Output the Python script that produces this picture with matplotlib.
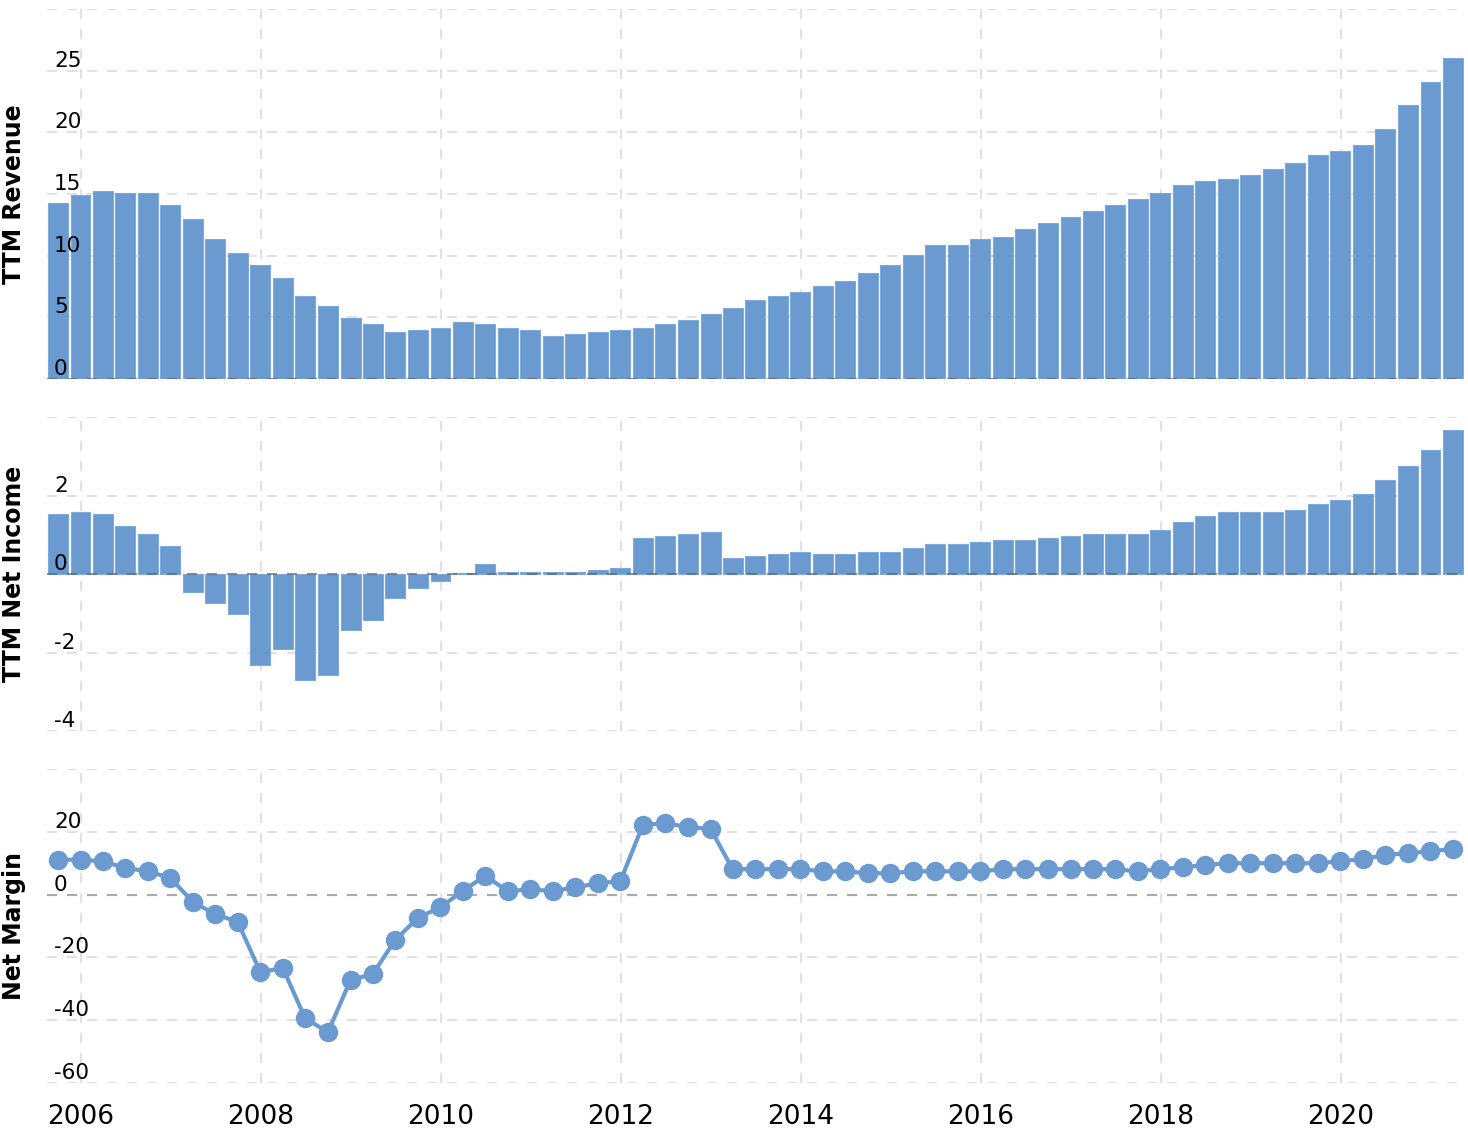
import numpy as np
import pandas as pd
import matplotlib
matplotlib.use('Agg')
import matplotlib.pyplot as plt
import matplotlib.dates as mdates

# quarter-end dates, 2005Q3 .. 2021Q1
quarters = pd.period_range('2005Q3', '2021Q1', freq='Q')
dates = quarters.asfreq('D', 'end').to_timestamp()

# TTM revenue (billions)
revenue = [14.27, 14.92, 15.24, 15.08, 15.08, 14.11, 12.98, 11.37, 10.24, 9.27,
           8.15, 6.69, 5.89, 4.92, 4.44, 3.79, 3.95, 4.11, 4.60, 4.44,
           4.11, 3.95, 3.47, 3.63, 3.79, 3.95, 4.11, 4.44, 4.76, 5.24,
           5.73, 6.37, 6.69, 7.02, 7.50, 7.98, 8.63, 9.27, 10.08, 10.89,
           10.89, 11.37, 11.53, 12.18, 12.66, 13.15, 13.63, 14.11, 14.60, 15.08,
           15.73, 16.05, 16.21, 16.53, 17.02, 17.50, 18.15, 18.47, 18.95, 20.24,
           22.18, 24.11, 26.05]

# TTM net income (billions)
net_income = [1.53, 1.58, 1.53, 1.22, 1.02, 0.71, -0.45, -0.75, -1.01, -2.33,
              -1.92, -2.69, -2.58, -1.42, -1.16, -0.60, -0.35, -0.19, 0.02, 0.25,
              0.05, 0.05, 0.05, 0.05, 0.10, 0.15, 0.92, 0.97, 1.02, 1.07,
              0.41, 0.46, 0.51, 0.56, 0.51, 0.51, 0.56, 0.56, 0.66, 0.76,
              0.76, 0.81, 0.86, 0.86, 0.92, 0.97, 1.02, 1.02, 1.02, 1.12,
              1.32, 1.47, 1.58, 1.58, 1.58, 1.63, 1.78, 1.88, 2.03, 2.39,
              2.75, 3.15, 3.66]

# net margin (%)
net_margin = [11.1, 11.1, 10.6, 8.5, 7.4, 5.3, -2.3, -6.2, -8.7, -24.7,
              -23.4, -39.4, -43.8, -27.2, -25.3, -14.5, -7.4, -4.0, 1.1, 6.0,
              1.1, 1.7, 1.1, 2.3, 3.6, 4.3, 22.1, 22.8, 21.5, 20.9,
              8.1, 8.1, 8.1, 8.1, 7.4, 7.4, 6.8, 6.8, 7.4, 7.4,
              7.4, 7.4, 8.1, 8.1, 8.1, 8.1, 8.1, 8.1, 7.4, 8.1,
              8.7, 9.4, 10.0, 10.0, 10.0, 10.0, 10.0, 10.6, 11.3, 12.6,
              13.2, 13.8, 14.5]

rev_ticks = [0, 5, 10, 15, 20, 25, 30]
ni_ticks = [-4, -2, 0, 2, 4]
nm_ticks = [-60, -40, -20, 0, 20, 40]
year_ticks = [pd.Timestamp(f'{y}-01-01') for y in range(2006, 2022, 2)]

BLUE = '#6a9ad0'
GRID = '#e2e2e2'

W, H = 1468, 1132
fig = plt.figure(figsize=(W / 100, H / 100), dpi=100)

left, right = 47 / W, 1464 / W
ax1 = fig.add_axes([left, 1 - 379 / H, right - left, 370 / H])
ax2 = fig.add_axes([left, 1 - 731 / H, right - left, 314 / H])
ax3 = fig.add_axes([left, 1 - 1083 / H, right - left, 314 / H])

xmin, xmax = pd.Timestamp('2005-08-17'), pd.Timestamp('2021-05-16')


def style(ax, ticks, label):
    ax.set_xlim(xmin, xmax)
    ax.set_ylim(ticks[0], ticks[-1])
    ax.set_axisbelow(False)
    for s in ax.spines.values():
        s.set_visible(False)
    for t in ticks:
        ax.axhline(t, color=GRID, lw=1.5, ls=(0, (4.8, 4.8)), zorder=0)
    for d in year_ticks:
        ax.axvline(d, color=GRID, lw=1.5, ls=(0, (4.8, 4.8)), zorder=0)
    ax.set_yticks(ticks)
    ax.set_yticklabels([str(t) for t in ticks[:-1]] + [''])
    ax.tick_params(axis='y', length=0, pad=-5, labelsize=15.5)
    for lab in ax.get_yticklabels():
        lab.set_horizontalalignment('left')
        lab.set_verticalalignment('bottom')
    ax.set_xticks(year_ticks)
    ax.xaxis.set_major_formatter(mdates.DateFormatter('%Y'))
    ax.tick_params(axis='x', length=0, pad=15, labelsize=19)
    ax.set_facecolor('none')
    pos = ax.get_position()
    fig.text(14 / W, (pos.y0 + pos.y1) / 2, label, rotation=90, ha='center',
             va='center', fontsize=17, fontweight='bold')


ax1.bar(dates, revenue, width=81, color=BLUE, edgecolor='#7ea9da', linewidth=0.8, zorder=2)
ax1.axhline(0, color='#555555', alpha=0.55, lw=1.5, ls=(0, (4.8, 4.8)), zorder=2.2)
style(ax1, rev_ticks, 'TTM Revenue')
ax1.tick_params(axis='x', labelbottom=False)

ax2.bar(dates, net_income, width=81, color=BLUE, edgecolor='#7ea9da', linewidth=0.8, zorder=2)
ax2.axhline(0, color='#555555', alpha=0.55, lw=1.5, ls=(0, (4.8, 4.8)), zorder=2.2)
style(ax2, ni_ticks, 'TTM Net Income')
ax2.tick_params(axis='x', labelbottom=False)

ax3.axhline(0, color='#aaaaaa', lw=1.5, ls=(0, (4.8, 4.8)), zorder=1)
ax3.plot(dates, net_margin, color=BLUE, lw=3, marker='o', markersize=14,
         markeredgewidth=0, zorder=2)
style(ax3, nm_ticks, 'Net Margin')

fig.savefig('out.png', dpi=100)
